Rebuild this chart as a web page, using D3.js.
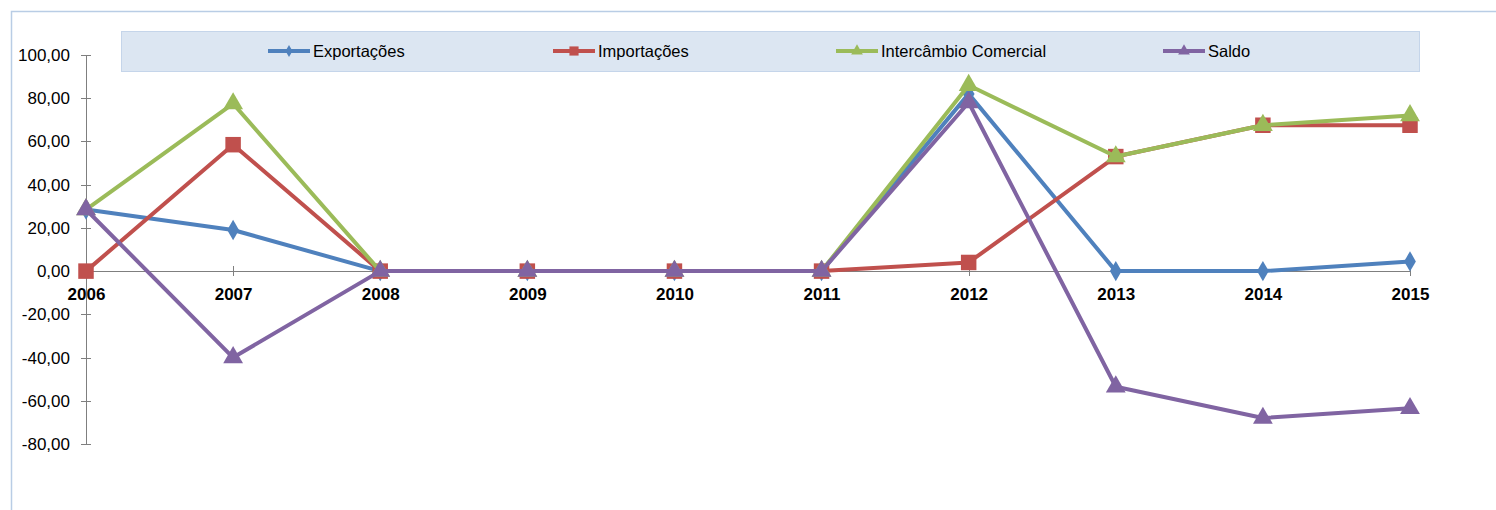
<!DOCTYPE html>
<meta charset="utf-8">
<style>
body { margin: 0; background: #fff; font-family: 'Liberation Sans', Arial, sans-serif; }
.axis path, .axis line { fill: none; stroke: #7f7f7f; stroke-width: 1px; shape-rendering: crispEdges; }
.y.axis text { font-size: 17px; fill: #000; }
.x.axis text { font-size: 17px; font-weight: bold; fill: #000; }
.line { fill: none; stroke-width: 4px; stroke-linejoin: round; }
.legend text { font-size: 16.5px; fill: #000; }
</style>
<body>
<script src="https://d3js.org/d3.v7.min.js"></script>
<script>

// data
var years = ["2006", "2007", "2008", "2009", "2010", "2011", "2012", "2013", "2014", "2015"];
var exportacoes = [28.5, 19, 0, 0, 0, 0, 82, 0, 0, 4.5];
var importacoes = [0, 58.5, 0, 0, 0, 0, 4, 53, 67.5, 67.5];
var intercambio = [28.5, 77.5, 0, 0, 0, 0, 86, 53, 67.5, 72];
var saldo = [28.5, -40, 0, 0, 0, 0, 78, -53.5, -68, -63.5];
var yTicks = [100, 80, 60, 40, 20, 0, -20, -40, -60, -80];

var series = [
  {name: "Exportações", values: exportacoes, color: "#4f81bd", symbol: d3.symbolDiamond, size: 120},
  {name: "Importações", values: importacoes, color: "#c0504d", symbol: d3.symbolSquare, size: 240},
  {name: "Intercâmbio Comercial", values: intercambio, color: "#9bbb59", symbol: d3.symbolTriangle, size: 170},
  {name: "Saldo", values: saldo, color: "#8064a2", symbol: d3.symbolTriangle, size: 170}
];

var W = 1496, H = 510;
var svg = d3.select("body").append("svg")
    .attr("width", W)
    .attr("height", H);

// chart area border
svg.append("rect")
    .attr("x", 11.5).attr("y", 11.5)
    .attr("width", W).attr("height", H)
    .attr("fill", "#fff")
    .attr("stroke", "#b9cde5")
    .attr("stroke-width", 1.5);

var x = d3.scalePoint().domain(years).range([86, 1410]);
var y = d3.scaleLinear().domain([-80, 100]).range([444, 55]);

// y axis
var yAxis = svg.append("g")
    .attr("class", "y axis")
    .attr("transform", "translate(" + x(years[0]) + ",0)")
    .call(d3.axisLeft(y).tickValues(yTicks).tickSizeInner(5).tickSizeOuter(0).tickPadding(11)
      .tickFormat(function(d) { return d3.format(".2f")(d).replace(".", ",").replace("−", "-"); }));
yAxis.selectAll(".tick line").attr("x1", -5).attr("x2", 5);

// x axis at zero
var xAxis = svg.append("g")
    .attr("class", "x axis")
    .attr("transform", "translate(0," + y(0) + ")")
    .call(d3.axisBottom(x).tickSizeInner(5).tickSizeOuter(0).tickPadding(12));
xAxis.selectAll(".tick line").attr("y1", -5).attr("y2", 5);
xAxis.select(".domain").attr("d", "M" + x(years[0]) + ",0.5H" + x(years[years.length - 1]));

var line = d3.line()
    .x(function(d, i) { return x(years[i]); })
    .y(function(d) { return y(d); });

series.forEach(function(s) {
  svg.append("path")
      .datum(s.values)
      .attr("class", "line")
      .attr("stroke", s.color)
      .attr("d", line);

  svg.selectAll(null)
      .data(s.values)
    .enter().append("path")
      .attr("transform", function(d, i) { return "translate(" + x(years[i]) + "," + y(d) + ")"; })
      .attr("d", d3.symbol().type(s.symbol).size(s.size))
      .attr("fill", s.color);
});

// legend
var legend = svg.append("g").attr("class", "legend");
legend.append("rect")
    .attr("x", 121.5).attr("y", 31.5)
    .attr("width", 1298).attr("height", 40)
    .attr("fill", "#dce6f2")
    .attr("stroke", "#c5d5ea");

var legendX = [268, 553, 836, 1163];
series.forEach(function(s, i) {
  var g = legend.append("g").attr("transform", "translate(" + legendX[i] + ",51)");
  g.append("line")
      .attr("x1", 0).attr("x2", 42)
      .attr("stroke", s.color).attr("stroke-width", 4);
  g.append("path")
      .attr("transform", "translate(21,0)")
      .attr("d", d3.symbol().type(s.symbol).size(s.size * 0.35))
      .attr("fill", s.color);
  g.append("text")
      .attr("x", 45).attr("dy", "0.35em")
      .text(s.name);
});

</script>
</body>
